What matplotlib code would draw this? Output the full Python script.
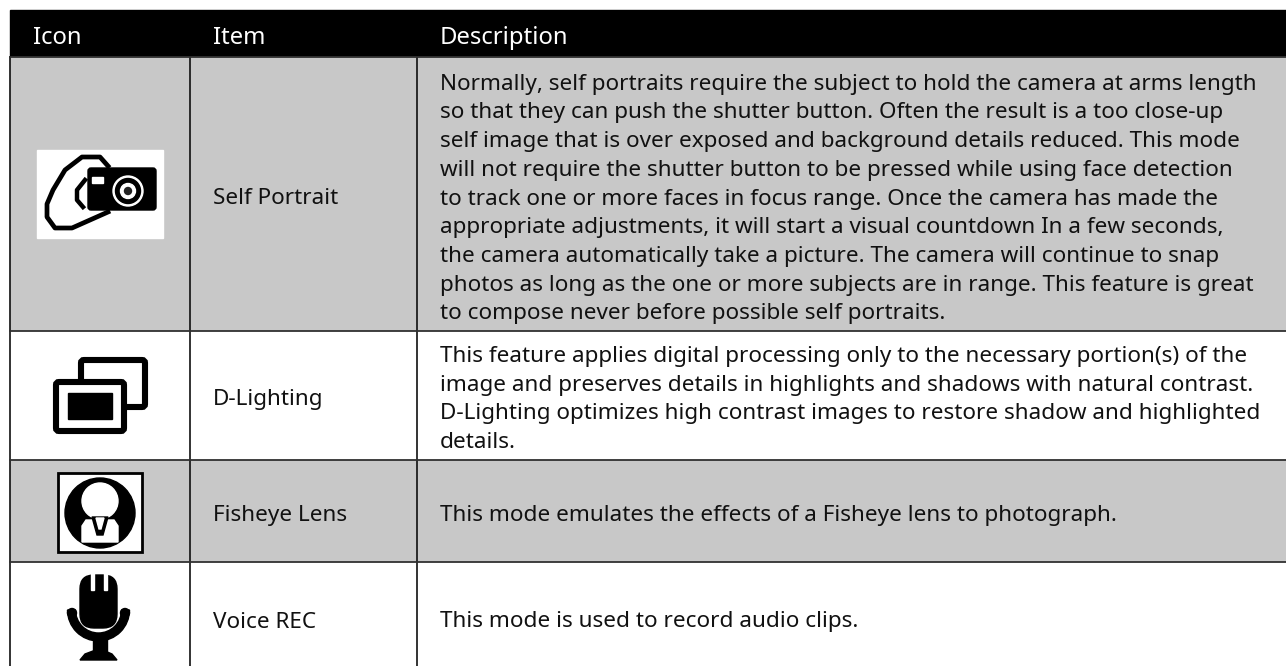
#!/usr/bin/env python
import matplotlib

matplotlib.use("Agg")
import matplotlib.pyplot as plt
from matplotlib.patches import Circle, FancyBboxPatch, Polygon, Rectangle, Wedge

HEADERS = ["Icon", "Item", "Description"]
ITEMS = ["Self Portrait", "D-Lighting", "Fisheye Lens", "Voice REC"]
DESCRIPTIONS = [
    [
        "Normally, self portraits require the subject to hold the camera at arms length",
        "so that they can push the shutter button. Often the result is a too close-up",
        "self image that is over exposed and background details reduced. This mode",
        "will not require the shutter button to be pressed while using face detection",
        "to track one or more faces in focus range. Once the camera has made the",
        "appropriate adjustments, it will start a visual countdown In a few seconds,",
        "the camera automatically take a picture. The camera will continue to snap",
        "photos as long as the one or more subjects are in range. This feature is great",
        "to compose never before possible self portraits.",
    ],
    [
        "This feature applies digital processing only to the necessary portion(s) of the",
        "image and preserves details in highlights and shadows with natural contrast.",
        "D-Lighting optimizes high contrast images to restore shadow and highlighted",
        "details.",
    ],
    ["This mode emulates the effects of a Fisheye lens to photograph."],
    ["This mode is used to record audio clips."],
]
ROW_COLORS = ["#c8c8c8", "#ffffff", "#c8c8c8", "#ffffff"]
ROW_EDGES = [57, 331, 460, 562, 666]
TEXT_SHIFT = [5, 4, 5, 8]
COL_EDGES = [9.5, 190, 417]
RIGHT = 1286
HEADER_TOP = 10
LINE_STEP = 28.7
FONT = "Noto Sans"
BODY_SIZE = 16.2
HEADER_SIZE = 17.2


def draw_camera(ax):
    ax.add_patch(Rectangle((37, 150), 126, 88, color="white", zorder=2))
    ax.add_patch(FancyBboxPatch((88, 168), 68, 42, boxstyle="round,pad=0,rounding_size=3", color="black", zorder=3))
    ax.add_patch(Circle((128, 191), 15, color="white", zorder=4))
    ax.add_patch(Circle((128, 191), 12.5, color="black", zorder=5))
    ax.add_patch(Circle((128, 191), 7.5, color="white", zorder=6))
    ax.add_patch(Circle((128, 191), 3.5, color="#222222", zorder=7))
    ax.add_patch(Rectangle((92, 177), 11, 6, color="white", zorder=4))
    hand = [(108, 166), (100, 157), (82, 157), (65, 170), (53, 190), (47, 204), (47, 217), (55, 228), (72, 228), (90, 220), (108, 212)]
    ax.plot(*zip(*hand), color="black", lw=3.4, zorder=5)
    ax.plot([85, 77, 77, 83], [180, 190, 200, 207], color="black", lw=3.2, zorder=5)


def draw_dlighting(ax):
    ax.add_patch(FancyBboxPatch((81, 360), 64, 47, boxstyle="round,pad=0,rounding_size=3", fill=False, ec="black", lw=4.4, zorder=3))
    ax.add_patch(FancyBboxPatch((56, 382), 68, 49, boxstyle="round,pad=0,rounding_size=3", fc="white", ec="black", lw=4.4, zorder=4))
    ax.add_patch(Rectangle((68, 393), 44, 26, color="black", zorder=5))


def draw_fisheye(ax):
    ax.add_patch(Rectangle((58, 472.5), 84, 79, fc="white", ec="black", lw=2, zorder=3))
    ax.add_patch(Circle((100, 513), 35, color="black", zorder=4))
    ax.add_patch(Circle((100, 501), 18, color="white", zorder=5))
    ax.add_patch(Polygon([(86, 520), (114, 520), (118, 526), (118, 542), (82, 542), (82, 526)], color="white", zorder=5))
    ax.add_patch(Polygon([(92, 517), (108, 517), (103, 535), (97, 535)], color="black", zorder=6))
    ax.add_patch(Polygon([(96, 518), (104, 518), (101, 529), (99, 529)], color="white", zorder=7))


def draw_mic(ax):
    ax.add_patch(FancyBboxPatch((80, 575), 37, 53, boxstyle="round,pad=0,rounding_size=14", color="black", zorder=3))
    ax.add_patch(Rectangle((91, 573), 3, 17, color="white", zorder=4))
    ax.add_patch(Rectangle((103.5, 573), 3.5, 17, color="white", zorder=4))
    ax.add_patch(Wedge((98.5, 610), 31, 0, 180, width=8, color="black", zorder=2))
    ax.add_patch(Circle((72, 613), 4.5, color="black", zorder=3))
    ax.add_patch(Circle((125, 613), 4.5, color="black", zorder=3))
    ax.add_patch(Rectangle((93, 638), 14, 18, color="black", zorder=3))
    ax.add_patch(Polygon([(80, 660), (117, 660), (112, 654), (105, 651), (93, 651), (85, 654)], color="black", zorder=3))


def main():
    fig = plt.figure(figsize=(12.86, 6.66), dpi=100)
    ax = fig.add_axes([0, 0, 1, 1])
    ax.set_xlim(0, 1286)
    ax.set_ylim(666, 0)
    ax.axis("off")

    ax.add_patch(Rectangle((COL_EDGES[0], HEADER_TOP), RIGHT - COL_EDGES[0], ROW_EDGES[0] - HEADER_TOP, color="black"))
    for x, header in zip([33, 213, 440], HEADERS):
        ax.text(x, 38, header, color="white", fontsize=HEADER_SIZE, family=FONT, va="center", ha="left")

    for i, item in enumerate(ITEMS):
        top, bottom = ROW_EDGES[i], ROW_EDGES[i + 1]
        ax.add_patch(Rectangle((COL_EDGES[0], top), RIGHT - COL_EDGES[0], bottom - top, color=ROW_COLORS[i], zorder=1))
        mid = (top + bottom) / 2 + TEXT_SHIFT[i]
        ax.text(213, mid, item, fontsize=BODY_SIZE, family=FONT, va="center", ha="left", color="#111111", zorder=5)
        lines = DESCRIPTIONS[i]
        y0 = mid - LINE_STEP * (len(lines) - 1) / 2
        for j, line in enumerate(lines):
            ax.text(440, y0 + j * LINE_STEP, line, fontsize=BODY_SIZE, family=FONT, va="center", ha="left", color="#111111", zorder=5)

    for x in COL_EDGES:
        ax.plot([x, x], [ROW_EDGES[0], 666], color="#101010", lw=1.2, zorder=8)
    for y in ROW_EDGES[:-1]:
        ax.plot([COL_EDGES[0], RIGHT], [y, y], color="#303030", lw=1.3, zorder=8)

    draw_camera(ax)
    draw_dlighting(ax)
    draw_fisheye(ax)
    draw_mic(ax)

    fig.savefig("out.png", dpi=100)
    plt.close(fig)


if __name__ == "__main__":
    main()
